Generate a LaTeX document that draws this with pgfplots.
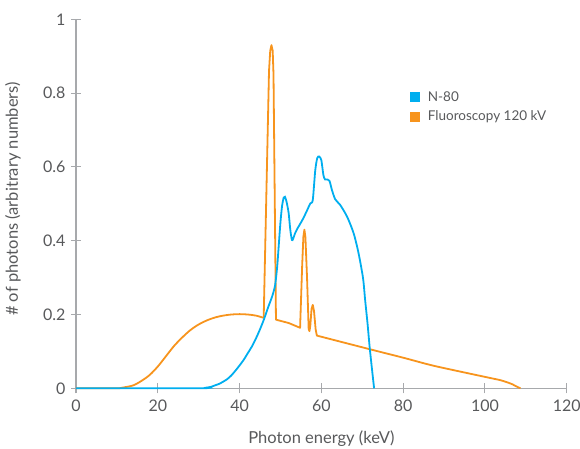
\documentclass[border=0pt]{standalone}
\usepackage{pgfplots}
\pgfplotsset{compat=1.18}
\usepackage{fontspec}
\setmainfont{Lato}
\definecolor{nblue}{HTML}{00AEEF}
\definecolor{forange}{HTML}{F7941D}
\definecolor{axgray}{HTML}{A7A9AC}
\definecolor{txtgray}{HTML}{58595B}
\begin{document}
\begin{tikzpicture}
\begin{axis}[
  at={(0,0)}, anchor=south west,
  scale only axis, width=490.7pt, height=369pt,
  xmin=0, xmax=120, ymin=0, ymax=1,
  axis x line=bottom, axis y line=left,
  axis line style={-, draw=axgray, line width=1.3pt},
  xtick={0,20,40,60,80,100,120},
  ytick={0,0.2,0.4,0.6,0.8,1},
  yticklabels={0,0.2,0.4,0.6,0.8,1},
  tick align=center, major tick length=10pt,
  tick style={draw=axgray, line width=1.1pt},
  /pgf/number format/assume math mode=true,
  tick label style={font=\fontsize{16}{19}\selectfont, text=txtgray},
  xticklabel style={yshift=-3pt},
  yticklabel style={xshift=-2pt},
  xlabel={Photon energy (keV)},
  ylabel={\# of photons (arbitrary numbers)},
  label style={font=\fontsize{16.5}{19}\selectfont, text=txtgray},
  xlabel style={at={(axis description cs:0.5,0)}, anchor=center, yshift=-50pt},
  ylabel style={at={(axis description cs:0,0.513)}, anchor=center, rotate=0, yshift=63pt},
  legend style={draw=none, fill=none, at={(axis cs:81.6,0.81)}, anchor=north west,
    font=\fontsize{13.5}{16}\selectfont, text=txtgray, row sep=4pt, inner sep=0pt},
  legend cell align=left,
  legend image code/.code={\fill[#1, draw=none] (0pt,-5pt) rectangle (10pt,5pt); \path[draw=none, fill=none] (0pt,0pt) rectangle (16pt,0pt);},
  reverse legend,
  clip=false,
]
% Fluoroscopy 120 kV (orange)
\addplot[forange, line width=1.8pt, smooth, tension=0.5] coordinates {
 (0,0) (5,0) (10,0) (11,0.001) (12,0.003) (14,0.008) (16,0.02) (18,0.036) (20,0.059)
 (22,0.087) (24,0.115) (26,0.138) (28,0.158) (30,0.173) (32,0.184) (34,0.192)
 (36,0.197) (38,0.2) (40,0.201) (42,0.2) (44,0.197) (45.9,0.191)
};
\addlegendentry{Fluoroscopy 120 kV}
\addplot[forange, line width=1.8pt, line join=round, forget plot] coordinates {
 (45.9,0.191) (47.2,0.86) (47.5,0.915) (47.8,0.93) (48.1,0.915) (48.3,0.85) (48.9,0.186)
 (52,0.177) (54.8,0.164) (55.3,0.33) (55.6,0.41) (55.85,0.43) (56.1,0.41) (56.5,0.3)
 (56.9,0.16) (57.1,0.155) (57.3,0.17) (57.6,0.215) (57.9,0.226) (58.2,0.21) (58.6,0.16)
 (58.9,0.143) (59.2,0.142)
};
\addplot[forange, line width=1.8pt, smooth, tension=0.4, forget plot] coordinates {
 (59.2,0.142) (71.1,0.108) (80,0.083) (87.5,0.061) (100,0.031) (103.8,0.022)
 (105.5,0.016) (106.7,0.011) (107.7,0.005) (108.7,0)
};
% N-80 (blue)
\addplot[nblue, line width=1.8pt, smooth, tension=0.45] coordinates {
 (0,0) (30,0) (32,0.002) (33,0.004) (34,0.008) (35,0.012) (36,0.018) (37,0.025)
 (38,0.035) (39,0.048) (40,0.062) (41,0.077) (42,0.095) (43,0.113) (44,0.135)
 (45,0.16) (46,0.188) (47,0.22) (48,0.25) (48.7,0.28) (49.2,0.33) (49.6,0.39)
 (50.0,0.45) (50.4,0.495) (50.8,0.517) (51.1,0.519) (51.5,0.505) (52.0,0.475)
 (52.4,0.43) (52.8,0.402) (53.1,0.405) (53.5,0.418) (54.0,0.43) (55,0.449)
 (55.6,0.461) (56.5,0.482) (57.3,0.501) (57.9,0.51) (58.5,0.59) (59.0,0.624)
 (59.5,0.628) (60.0,0.618) (60.5,0.578) (60.9,0.566) (61.5,0.566) (62.0,0.562)
 (62.6,0.537) (63.4,0.512) (64.6,0.497) (66.3,0.465) (67.9,0.42) (69.1,0.366)
 (70.2,0.298) (70.7,0.24) (71.3,0.175) (71.8,0.113) (72.4,0.05) (72.9,0)
};
\addlegendentry{N-80}
\end{axis}
\pgfresetboundingbox
\path (-76pt,-59.7pt) rectangle (504pt,388.3pt);
\end{tikzpicture}
\end{document}
